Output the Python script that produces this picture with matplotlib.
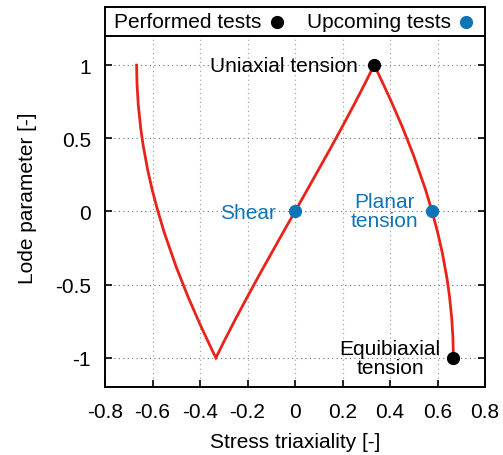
import matplotlib
matplotlib.use("Agg")
import matplotlib.pyplot as plt
from matplotlib.patches import Rectangle

plt.rcParams['font.family'] = ['Liberation Sans', 'DejaVu Sans']

# Plane-stress curve: stress triaxiality vs Lode parameter
curve_eta = [-0.667, -0.665, -0.66, -0.65, -0.64, -0.62, -0.60, -0.577, -0.55, -0.50,
             -0.45, -0.40, -0.35, -0.34, -0.333, -0.30, -0.25, -0.20, -0.15, -0.10,
             -0.05, 0.0, 0.05, 0.10, 0.15, 0.20, 0.25, 0.30, 0.333, 0.34, 0.35,
             0.40, 0.45, 0.50, 0.55, 0.577, 0.60, 0.62, 0.64, 0.65, 0.66, 0.665, 0.667]
curve_lode = [1.0, 0.865, 0.731, 0.573, 0.458, 0.281, 0.139, 0.0, -0.147, -0.380,
              -0.585, -0.771, -0.945, -0.978, -1.0, -0.892, -0.734, -0.582, -0.433, -0.288,
              -0.143, 0.0, 0.143, 0.288, 0.433, 0.582, 0.734, 0.892, 1.0, 0.978, 0.945,
              0.771, 0.585, 0.380, 0.147, 0.0, -0.139, -0.281, -0.458, -0.573, -0.731, -0.865, -1.0]

performed_eta = [0.333, 0.667]
performed_lode = [1.0, -1.0]
upcoming_eta = [0.0, 0.577]
upcoming_lode = [0.0, 0.0]

xticks = [-0.8, -0.6, -0.4, -0.2, 0.0, 0.2, 0.4, 0.6, 0.8]
xticklabels = ['-0.8', '-0.6', '-0.4', '-0.2', '0', '0.2', '0.4', '0.6', '0.8']
yticks = [-1.0, -0.5, 0.0, 0.5, 1.0]
yticklabels = ['-1', '-0.5', '0', '0.5', '1']

RED = '#e8231a'
BLUE = '#0f75b6'
FS = 15

fig = plt.figure(figsize=(5.03, 4.56), dpi=100)
ax = fig.add_axes([105/503, 1-388/456, 380/503, (388-7.6)/456])
ax.set_xlim(-0.8, 0.8)
ax.set_ylim(-1.2, 1.4)

# grid
for x in xticks[1:-1]:
    ax.plot([x, x], [-1.2, 1.2], color='#9a9a9a', lw=0.8, ls=(0, (1, 3)), zorder=1)
for y in yticks:
    ax.plot([-0.8, 0.8], [y, y], color='#707070', lw=0.8, ls=(0, (1, 3)), zorder=1)

ax.plot(curve_eta, curve_lode, color=RED, lw=2.0, zorder=3, solid_joinstyle='miter')
ax.plot(performed_eta, performed_lode, 'o', color='black', ms=8.5, zorder=4)
ax.plot(upcoming_eta, upcoming_lode, 'o', color=BLUE, ms=8.5, zorder=4)

ax.text(0.265, 1.0, 'Uniaxial tension', ha='right', va='center', fontsize=FS, color='black', zorder=5)
ax.text(-0.08, -0.007, 'Shear', ha='right', va='center', fontsize=FS, color=BLUE, zorder=5)
ax.text(0.375, 0.0, 'Planar\ntension', ha='center', va='center', fontsize=FS, color=BLUE,
        linespacing=1.0, zorder=5)
ax.text(0.40, -1.0, 'Equibiaxial\ntension', ha='center', va='center', fontsize=FS,
        color='black', linespacing=1.0, zorder=5)

# key box at the top
ax.add_patch(Rectangle((0, 0.923), 1, 0.077, transform=ax.transAxes,
                       facecolor='white', edgecolor='none', zorder=6))
ax.plot([0, 1], [0.923, 0.923], transform=ax.transAxes, color='black', lw=1.4, zorder=7, clip_on=False)
ax.text(0.024, 0.9596, 'Performed tests', transform=ax.transAxes, ha='left', va='center',
        fontsize=FS, zorder=8)
ax.plot([0.453], [0.9596], 'o', color='black', ms=8.5, transform=ax.transAxes, zorder=8)
ax.text(0.532, 0.9596, 'Upcoming tests', transform=ax.transAxes, ha='left', va='center',
        fontsize=FS, zorder=8)
ax.plot([0.95], [0.9596], 'o', color=BLUE, ms=8.5, transform=ax.transAxes, zorder=8)

ax.set_xticks(xticks)
ax.set_xticklabels(xticklabels)
ax.set_yticks(yticks)
ax.set_yticklabels(yticklabels)
ax.tick_params(axis='both', direction='in', length=5, width=1.2, labelsize=FS,
               top=False, right=True)
ax.tick_params(axis='x', pad=11)
ax.tick_params(axis='y', pad=10)
for s in ax.spines.values():
    s.set_linewidth(1.4)
    s.set_zorder(9)

ax.set_xlabel('Stress triaxiality [-]', fontsize=FS, labelpad=8)
ax.set_ylabel('Lode parameter [-]', fontsize=FS, labelpad=13)

fig.savefig('out.png', dpi=100)
